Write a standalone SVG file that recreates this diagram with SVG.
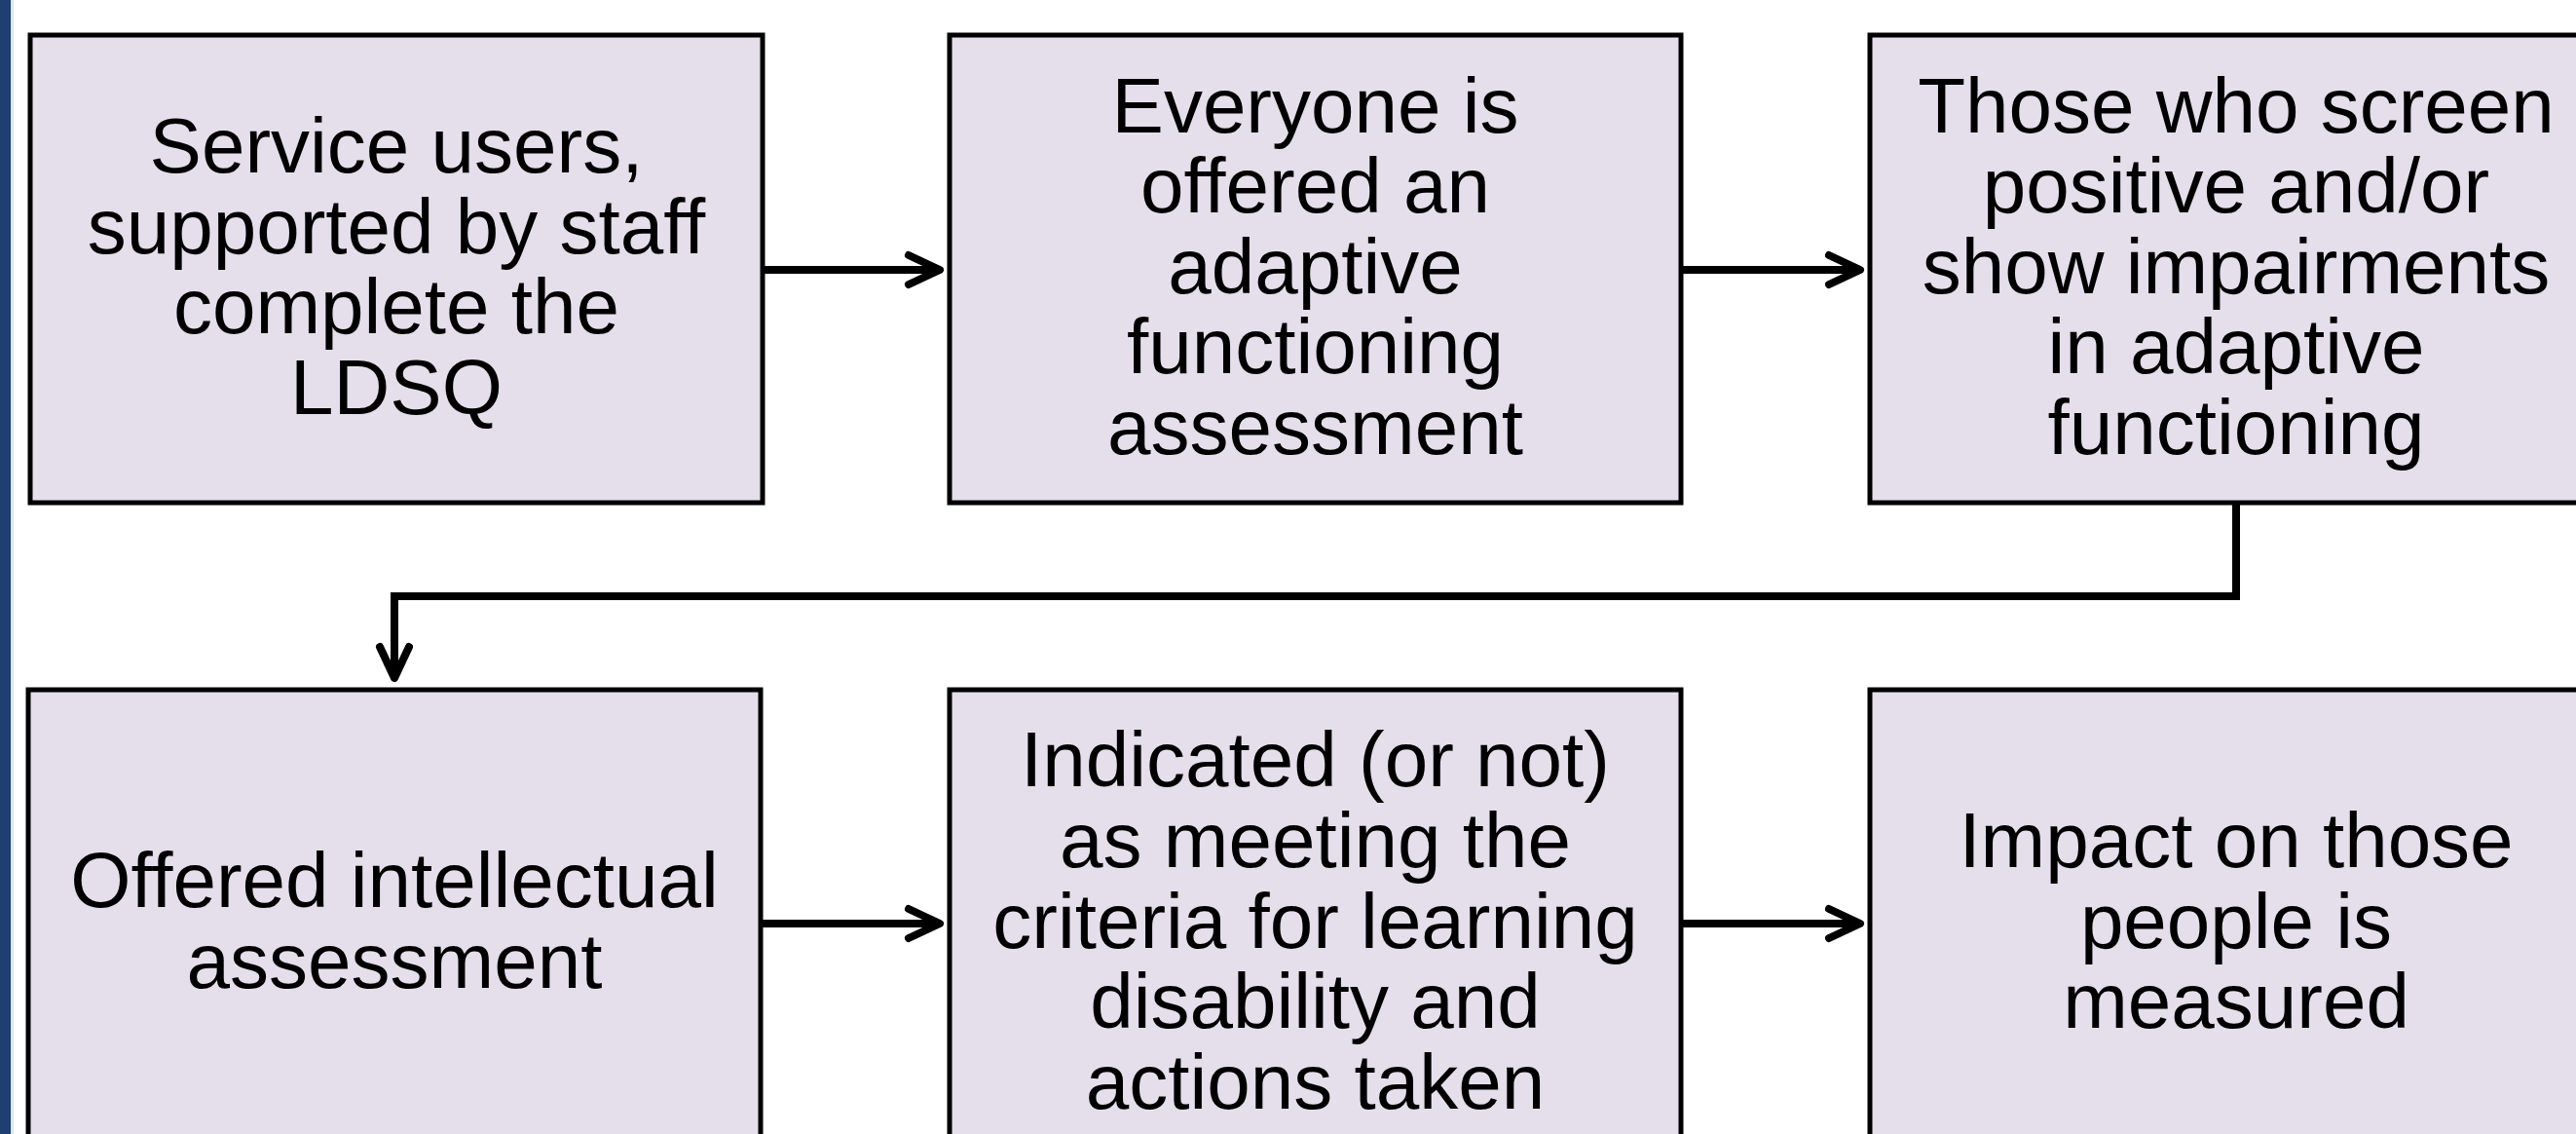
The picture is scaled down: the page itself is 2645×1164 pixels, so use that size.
<svg xmlns="http://www.w3.org/2000/svg" width="2645" height="1164" viewBox="0 0 2645 1164">
<defs>
<style>
.box{fill:#E4DFEB;stroke:#000;stroke-width:5}
.lbl{font-family:"Liberation Sans",Arial,sans-serif;font-size:80px;fill:#000;text-anchor:middle}
.con{fill:none;stroke:#000;stroke-width:8;stroke-linejoin:miter}
</style>
<marker id="arr" markerUnits="userSpaceOnUse" markerWidth="44" markerHeight="44" refX="34" refY="22" orient="auto" overflow="visible">
<path d="M6 7 L38 22 L6 37" fill="none" stroke="#000" stroke-width="8" stroke-linecap="round" stroke-linejoin="round"/>
</marker>
</defs>
<rect width="2645" height="1164" fill="#fff"/>
<rect x="0" y="0" width="11" height="1164" fill="#1F3E72"/>
<rect x="11" y="0" width="3" height="1164" fill="#D6EAF0"/>
<g id="connectors">
<path class="con" d="M784 277 H961" marker-end="url(#arr)"/>
<path class="con" d="M1726 277 H1906" marker-end="url(#arr)"/>
<path class="con" d="M2296 516 V612 H405 V692" marker-end="url(#arr)"/>
<path class="con" d="M781 948 H961" marker-end="url(#arr)"/>
<path class="con" d="M1726 948 H1906" marker-end="url(#arr)"/>
</g>
<g id="n1">
<rect class="box" x="31" y="36" width="752" height="480"/>
<text class="lbl"><tspan x="407" y="177">Service users,</tspan><tspan x="407" y="259.5">supported by staff</tspan><tspan x="407" y="342">complete the</tspan><tspan x="407" y="424.5">LDSQ</tspan></text>
</g>
<g id="n2">
<rect class="box" x="975" y="36" width="751" height="480"/>
<text class="lbl"><tspan x="1350.5" y="135.5">Everyone is</tspan><tspan x="1350.5" y="218">offered an</tspan><tspan x="1350.5" y="300.5">adaptive</tspan><tspan x="1350.5" y="383">functioning</tspan><tspan x="1350.5" y="466">assessment</tspan></text>
</g>
<g id="n3">
<rect class="box" x="1920" y="36" width="752" height="480"/>
<text class="lbl"><tspan x="2296" y="135.5">Those who screen</tspan><tspan x="2296" y="218">positive and/or</tspan><tspan x="2296" y="300.5">show impairments</tspan><tspan x="2296" y="383">in adaptive</tspan><tspan x="2296" y="466">functioning</tspan></text>
</g>
<g id="n4">
<rect class="box" x="29" y="708" width="752" height="480"/>
<text class="lbl"><tspan x="405" y="931">Offered intellectual</tspan><tspan x="405" y="1014">assessment</tspan></text>
</g>
<g id="n5">
<rect class="box" x="975" y="708" width="751" height="480"/>
<text class="lbl"><tspan x="1350.5" y="807">Indicated (or not)</tspan><tspan x="1350.5" y="890">as meeting the</tspan><tspan x="1350.5" y="972.5">criteria for learning</tspan><tspan x="1350.5" y="1055">disability and</tspan><tspan x="1350.5" y="1137.5">actions taken</tspan></text>
</g>
<g id="n6">
<rect class="box" x="1920" y="708" width="752" height="480"/>
<text class="lbl"><tspan x="2296" y="890">Impact on those</tspan><tspan x="2296" y="972.5">people is</tspan><tspan x="2296" y="1055">measured</tspan></text>
</g>
</svg>
